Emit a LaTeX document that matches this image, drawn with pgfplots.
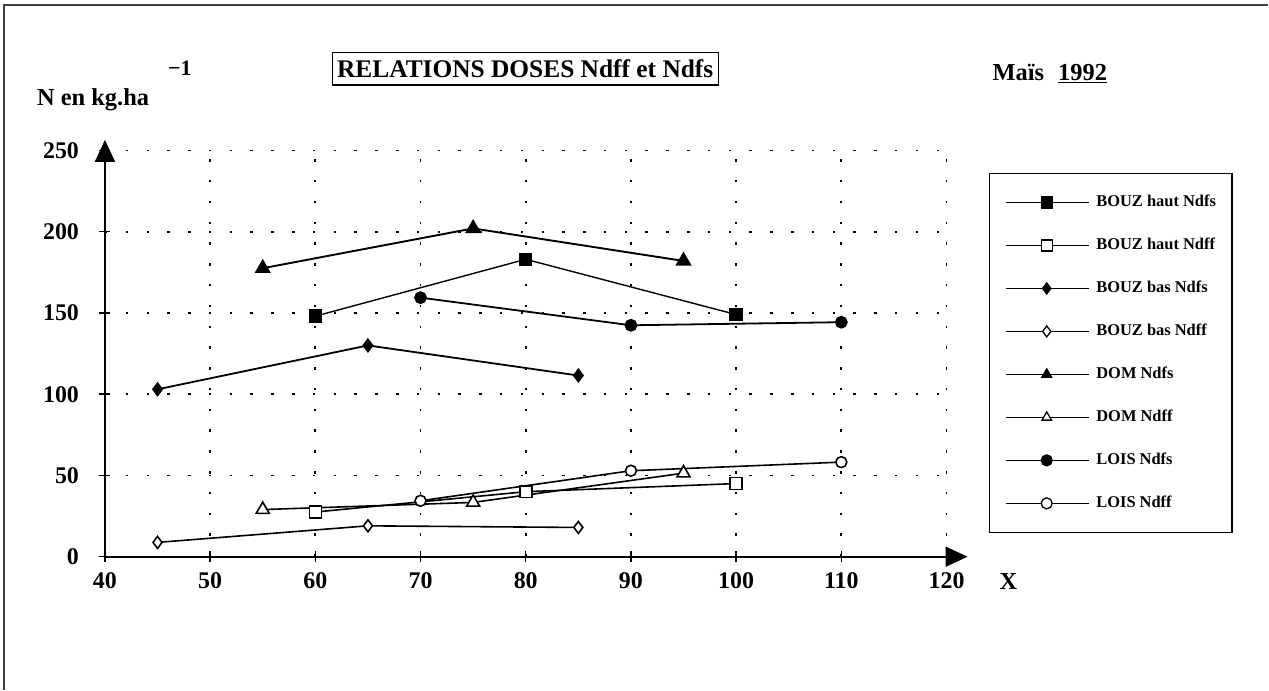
\documentclass[border=0pt]{standalone}
\usepackage{fontspec}
\setmainfont{Liberation Serif}
\usepackage{pgfplots}
\pgfplotsset{compat=1.18}
\usetikzlibrary{arrows.meta}
\begin{document}
\begin{tikzpicture}[x=1bp,y=1bp]
\path (0,0) rectangle (1269,690);
\draw[line width=1.3bp, black!75] (4,0) -- (4,685) -- (1269,685);
\begin{axis}[
  at={(105bp,133bp)}, anchor=south west,
  scale only axis, width=842bp, height=406.5bp,
  xmin=40, xmax=120, ymin=0, ymax=250,
  axis lines=left, axis line style={-, line width=1.6bp},
  xtick={40,50,...,120}, ytick={0,50,...,250},
  grid=major,
  major grid style={black, line width=1.8bp, dash pattern=on 2.5bp off 18.3bp},
  tick align=center, major tick length=11bp,
  tick style={black, line width=1.4bp},
  /pgf/number format/assume math mode=true,
  ticklabel style={font=\fontsize{24}{24}\selectfont\bfseries},
  xticklabel style={yshift=-7bp},
  yticklabel style={xshift=-17bp},
  clip=false,
  legend style={at={(1.0499,0.9446)}, anchor=north west, draw=black, line width=1.2bp,
    font=\fontsize{16.5}{16.5}\selectfont\bfseries,
    inner xsep=16bp, inner ysep=21bp, row sep=27bp,
    nodes={inner sep=0pt, text height=12bp, text depth=4bp},
    /tikz/column sep=7bp},
  legend cell align=left,
  legend image code/.code={\draw[mark repeat=2, mark phase=2, #1, line width=1.3bp, mark size=5.5bp]
     plot coordinates {(0bp,0bp) (41bp,0bp) (83bp,0bp)};},
]
\addplot[black, line width=1.4bp, mark=square*, mark size=6bp] coordinates {(60,148) (80,183) (100,149)};
\addlegendentry{BOUZ haut Ndfs}
\addplot[black, line width=1.6bp, mark=square*, mark size=6bp, mark options={fill=white}] coordinates {(60,27.5) (80,40) (100,45)};
\addlegendentry{BOUZ haut Ndff}
\addplot[black, line width=1.8bp, mark=diamond*, mark size=6bp] coordinates {(45,103) (65,130) (85,111.5)};
\addlegendentry{BOUZ bas Ndfs}
\addplot[black, line width=1.6bp, mark=diamond*, mark size=6bp, mark options={fill=white}] coordinates {(45,8.8) (65,19) (85,18)};
\addlegendentry{BOUZ bas Ndff}
\addplot[black, line width=1.9bp, mark=triangle*, mark size=7.5bp] coordinates {(55,177.5) (75,202) (95,182)};
\addlegendentry{DOM Ndfs}
\addplot[black, line width=1.6bp, mark=triangle*, mark size=7.5bp, mark options={fill=white}] coordinates {(55,29) (75,33.4) (95,51.4)};
\addlegendentry{DOM Ndff}
\addplot[black, line width=1.8bp, mark=*, mark size=5.5bp] coordinates {(70,159.4) (90,142.4) (110,144.3)};
\addlegendentry{LOIS Ndfs}
\addplot[black, line width=1.6bp, mark=*, mark size=5.5bp, mark options={fill=white}] coordinates {(70,34.4) (90,52.9) (110,58.2)};
\addlegendentry{LOIS Ndff}
\draw[line width=1.6bp, -{Triangle[length=22bp, width=20bp]}] (axis cs:118,0) -- (axis cs:122,0);
\draw[line width=1.6bp, -{Triangle[length=22bp, width=20bp]}] (axis cs:40,240) -- (axis cs:40,256.5);
\end{axis}
\node[draw, line width=1.2bp, inner xsep=5bp, inner ysep=7bp, font=\fontsize{25.5}{25.5}\selectfont\bfseries] at (525.5,621) {RELATIONS DOSES Ndff et Ndfs};
\node[anchor=base west, inner sep=0pt, font=\fontsize{24.5}{24.5}\selectfont\bfseries] at (37,584) {N en kg.ha};
\node[anchor=base west, inner sep=0pt, font=\fontsize{22}{22}\selectfont\bfseries] at (168,614) {\textminus1};
\node[anchor=base west, inner sep=0pt, font=\fontsize{24.5}{24.5}\selectfont\bfseries] at (993,609) {Maïs\hspace{14bp}\underline{1992}};
\node[inner sep=0pt, font=\fontsize{24.5}{24.5}\selectfont\bfseries] at (1009,108) {X};
\end{tikzpicture}
\end{document}
